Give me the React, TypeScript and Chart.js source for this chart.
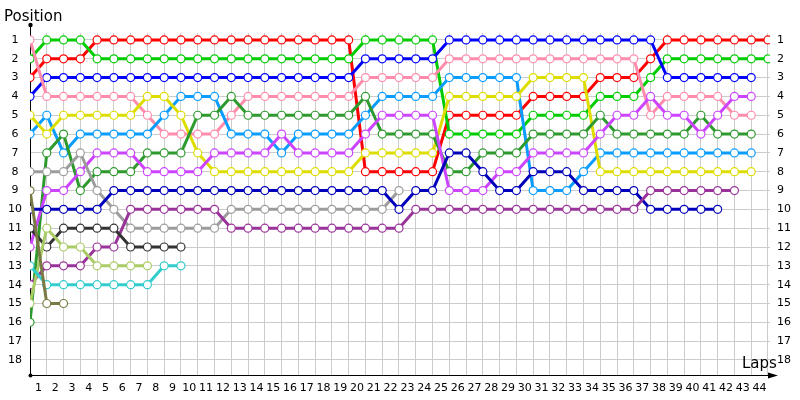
import React, { useEffect, useRef } from 'react';
import { Chart, registerables } from 'chart.js';

Chart.register(...registerables);

// Tick labels
const lapLabels = ['1','2','3','4','5','6','7','8','9','10','11','12','13','14','15','16','17','18','19','20','21','22','23','24','25','26','27','28','29','30','31','32','33','34','35','36','37','38','39','40','41','42','43','44'];
const positionLabels = ['1','2','3','4','5','6','7','8','9','10','11','12','13','14','15','16','17','18'];

// Positions per lap, starting at lap 0 (grid)
const red = [3,2,2,2,1, 1,1,1,1,1, 1,1,1,1,1, 1,1,1,1,1, 8,8,8,8,8, 5,5,5,5,5, 4,4,4,4,3, 3,3,2,1,1, 1,1,1,1,1];
const green = [2,1,1,1,2, 2,2,2,2,2, 2,2,2,2,2, 2,2,2,2,2, 1,1,1,1,1, 6,6,6,6,6, 5,5,5,5,4, 4,4,3,2,2, 2,2,2,2,2];
const blue = [4,3,3,3,3, 3,3,3,3,3, 3,3,3,3,3, 3,3,3,3,3, 2,2,2,2,2, 1,1,1,1,1, 1,1,1,1,1, 1,1,1,3,3, 3,3,3,3];
const pink = [1,4,4,4,4, 4,4,5,6,6, 6,6,5,4,4, 4,4,4,4,4, 3,3,3,3,3, 2,2,2,2,2, 2,2,2,2,2, 2,2,5,4,4, 4,4,5,5];
const sky = [6,5,7,6,6, 6,6,6,5,4, 4,4,6,6,6, 7,6,6,6,6, 5,4,4,4,4, 3,3,3,3,3, 9,9,9,8,7, 7,7,7,7,7, 7,7,7,7];
const yellow = [5,6,5,5,5, 5,5,4,4,5, 7,8,8,8,8, 8,8,8,8,8, 7,7,7,7,7, 4,4,4,4,4, 3,3,3,3,8, 8,8,8,8,8, 8,8,8,8];
const darkGreen = [16,7,6,9,8, 8,8,7,7,7, 5,5,4,5,5, 5,5,5,5,5, 4,6,6,6,6, 8,8,7,7,7, 6,6,6,6,5, 6,6,6,6,6, 5,6,6,6];
const gray = [8,8,8,7,9, 10,11,11,11,11, 11,11,10,10,10, 10,10,10,10,10, 10,10,9];
const magenta = [12,9,9,8,7, 7,7,8,8,8, 8,7,7,7,7, 6,7,7,7,7, 6,5,5,5,5, 9,9,9,8,8, 7,7,7,7,6, 5,5,4,5,5, 6,5,4,4];
const navy = [10,10,10,10,10, 9,9,9,9,9, 9,9,9,9,9, 9,9,9,9,9, 9,9,10,9,9, 7,7,8,9,9, 8,8,8,9,9, 9,9,10,10,10, 10,10];
const purple = [14,13,13,13,12, 12,10,10,10,10, 10,10,11,11,11, 11,11,11,11,11, 11,11,11,10,10, 10,10,10,10,10, 10,10,10,10,10, 10,10,9,9,9, 9,9,9];
const darkGray = [11,12,11,11,11, 11,12,12,12,12];
const yellowGreen = [15,11,12,12,13, 13,13,13];
const teal = [13,14,14,14,14, 14,14,14,13,13];
const olive = [9,15,15];

const series: { name: string; color: string; values: number[] }[] = [
  { name: 'olive', color: '#7a7a44', values: olive },
  { name: 'teal', color: '#33cccc', values: teal },
  { name: 'yellowGreen', color: '#aacc66', values: yellowGreen },
  { name: 'darkGray', color: '#333333', values: darkGray },
  { name: 'purple', color: '#993399', values: purple },
  { name: 'navy', color: '#0000bb', values: navy },
  { name: 'gray', color: '#9c9c9c', values: gray },
  { name: 'magenta', color: '#cc44ff', values: magenta },
  { name: 'darkGreen', color: '#2e9a2e', values: darkGreen },
  { name: 'yellow', color: '#dddd00', values: yellow },
  { name: 'sky', color: '#0a9cff', values: sky },
  { name: 'pink', color: '#ff8cab', values: pink },
  { name: 'blue', color: '#0000ff', values: blue },
  { name: 'green', color: '#00cc00', values: green },
  { name: 'red', color: '#ff0000', values: red },
];

const FONT = 'DejaVu Sans';

const axesPlugin = {
  id: 'lapAxes',
  beforeDatasetsDraw(chart: any) {
    const { ctx, chartArea } = chart;
    const left = chartArea.left;
    const bottom = chartArea.bottom;
    ctx.save();
    ctx.strokeStyle = '#000';
    ctx.fillStyle = '#000';
    ctx.lineWidth = 1;
    ctx.beginPath();
    ctx.moveTo(left + 0.5, 25);
    ctx.lineTo(left + 0.5, bottom);
    ctx.moveTo(left, bottom + 0.5);
    ctx.lineTo(772, bottom + 0.5);
    ctx.stroke();
    // top dot
    ctx.beginPath();
    ctx.arc(left + 0.5, 25, 2.2, 0, Math.PI * 2);
    ctx.fill();
    // bottom-left dot
    ctx.beginPath();
    ctx.arc(left + 0.5, bottom + 0.5, 2, 0, Math.PI * 2);
    ctx.fill();
    // right arrow
    ctx.beginPath();
    ctx.moveTo(778, bottom + 0.5);
    ctx.lineTo(768, bottom - 2.5);
    ctx.lineTo(768, bottom + 3.5);
    ctx.closePath();
    ctx.fill();
    ctx.restore();
  },
  afterDraw(chart: any) {
    const { ctx } = chart;
    ctx.save();
    ctx.fillStyle = '#000';
    ctx.font = `15px "${FONT}"`;
    ctx.textAlign = 'left';
    ctx.textBaseline = 'alphabetic';
    ctx.fillText('Position', 4, 21);
    ctx.fillText('Laps', 742, 368);
    ctx.restore();
  },
};

export default function App() {
  const ref = useRef<HTMLCanvasElement>(null);
  useEffect(() => {
    document.body.style.margin = '0';
    const canvas = ref.current;
    if (!canvas) return;
    const tickFont = { family: FONT, size: 11 };
    const chart = new Chart(canvas, {
      type: 'line',
      data: {
        datasets: series.map((s) => ({
          label: s.name,
          data: s.values.map((p, i) => ({ x: i, y: p })),
          borderColor: s.color,
          backgroundColor: '#ffffff',
          borderWidth: 3,
          pointRadius: 4,
          pointBorderWidth: 1.2,
          pointBorderColor: s.color,
          pointBackgroundColor: '#ffffff',
          tension: 0,
          fill: false,
        })),
      },
      plugins: [axesPlugin],
      options: {
        animation: false,
        responsive: false,
        maintainAspectRatio: false,
        layout: { padding: { top: 33, left: 0, right: 0, bottom: 0 } },
        plugins: { legend: { display: false }, tooltip: { enabled: false }, title: { display: false } },
        scales: {
          x: {
            type: 'linear',
            min: 0,
            max: 44.12,
            position: 'bottom',
            afterBuildTicks: (scale: any) => {
              const t: any[] = [];
              for (let i = 0; i <= lapLabels.length; i++) {
                t.push({ value: i });
                if (i < lapLabels.length) t.push({ value: i + 0.5 });
              }
              scale.ticks = t;
            },
            afterFit: (scale: any) => { scale.height = 25; },
            grid: {
              color: (c: any) => (c.tick && Number.isInteger(c.tick.value) ? '#cccccc' : 'rgba(0,0,0,0)'),
              drawTicks: false,
              lineWidth: 1,
            },
            border: { display: false },
            ticks: {
              autoSkip: false,
              maxRotation: 0,
              minRotation: 0,
              padding: 7,
              color: '#000',
              font: tickFont,
              callback: (v: any) => (Number.isInteger(v) ? '' : lapLabels[Math.round(v - 0.5)]),
            },
          },
          y: {
            type: 'linear',
            reverse: true,
            min: 0.63,
            max: 18.8,
            position: 'left',
            afterBuildTicks: (scale: any) => { scale.ticks = positionLabels.map((_, i) => ({ value: i + 1 })); },
            afterFit: (scale: any) => { scale.width = 30; },
            grid: { color: '#cccccc', drawTicks: false, lineWidth: 1 },
            border: { display: false },
            ticks: {
              crossAlign: 'center',
              padding: 8,
              color: '#000',
              font: tickFont,
              callback: (v: any) => positionLabels[Math.round(v) - 1],
            },
          },
          y2: {
            type: 'linear',
            reverse: true,
            min: 0.63,
            max: 18.8,
            position: 'right',
            afterBuildTicks: (scale: any) => { scale.ticks = positionLabels.map((_, i) => ({ value: i + 1 })); },
            afterFit: (scale: any) => { scale.width = 30; },
            grid: { display: false, drawTicks: false },
            border: { display: false },
            ticks: {
              padding: 7,
              color: '#000',
              font: tickFont,
              callback: (v: any) => positionLabels[Math.round(v) - 1],
            },
          },
        },
      } as any,
    });
    return () => chart.destroy();
  }, []);
  return (
    <div style={{ position: 'absolute', left: 0, top: 0, width: 800, height: 400 }}>
      <canvas ref={ref} width={800} height={400} style={{ width: 800, height: 400, display: 'block' }} />
    </div>
  );
}
